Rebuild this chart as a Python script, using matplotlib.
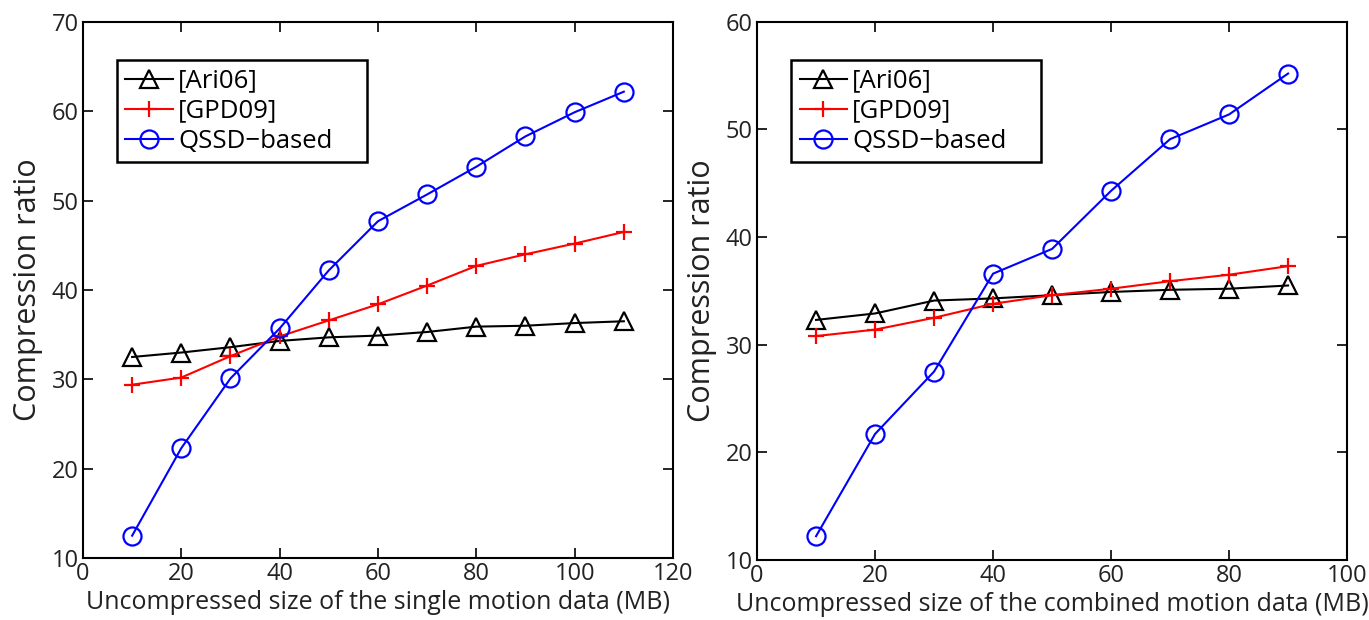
import matplotlib
matplotlib.use("Agg")
import matplotlib.pyplot as plt

plt.rcParams['font.family'] = ['Open Sans', 'DejaVu Sans']

# Left panel: single motion data
x_single = [10, 20, 30, 40, 50, 60, 70, 80, 90, 100, 110]
ari06_single = [32.5, 33.0, 33.6, 34.3, 34.7, 34.9, 35.3, 35.9, 36.0, 36.3, 36.5]
gpd09_single = [29.4, 30.2, 32.6, 34.8, 36.6, 38.4, 40.5, 42.7, 44.0, 45.2, 46.5]
qssd_single = [12.5, 22.3, 30.1, 35.7, 42.2, 47.7, 50.7, 53.8, 57.2, 59.9, 62.2]

# Right panel: combined motion data
x_comb = [10, 20, 30, 40, 50, 60, 70, 80, 90]
ari06_comb = [32.3, 32.9, 34.1, 34.3, 34.6, 34.9, 35.1, 35.2, 35.5]
gpd09_comb = [30.8, 31.4, 32.5, 33.8, 34.6, 35.2, 35.9, 36.5, 37.3]
qssd_comb = [12.2, 21.7, 27.5, 36.6, 38.9, 44.3, 49.1, 51.4, 55.2]

labels = ['[Ari06]', '[GPD09]', 'QSSD\u2212based']

fig = plt.figure(figsize=(13.69, 6.2), dpi=100)
ax1 = fig.add_axes([0.0606, 0.1, 0.431, 0.8645])
ax2 = fig.add_axes([0.5530, 0.097, 0.431, 0.8677])

def draw(ax, x, a, g, q, xlim, ylim, xticks, yticks, xlabel):
    ax.plot(x, a, color='black', marker='^', ms=12.5, mfc='none', mew=1.6, lw=1.5, label=labels[0])
    ax.plot(x, g, color='red', marker='+', ms=11, mew=1.6, lw=1.5, label=labels[1])
    ax.plot(x, q, color='blue', marker='o', ms=13, mfc='none', mew=1.6, lw=1.5, label=labels[2])
    ax.set_xlim(*xlim)
    ax.set_ylim(*ylim)
    ax.set_xticks(xticks)
    ax.set_yticks(yticks)
    ax.tick_params(direction='in', top=True, right=True, length=7, width=1.2,
                   labelsize=17, colors='black', labelcolor='#222222', pad=3)
    for s in ax.spines.values():
        s.set_linewidth(1.5)
    ax.set_xlabel(xlabel, fontsize=18, color='#222222', labelpad=3)
    ax.set_ylabel('Compression ratio', fontsize=22, color='#222222', labelpad=6)
    leg = ax.legend(loc='upper left', bbox_to_anchor=(0.0576, 0.6, 0.4237, 0.329),
                    mode='expand', borderaxespad=0,
                    fancybox=False, edgecolor='black', fontsize=18.5, handlelength=1.85,
                    handletextpad=0.2, borderpad=0.33, labelspacing=0.2, framealpha=1)
    leg.get_frame().set_linewidth(1.8)

draw(ax1, x_single, ari06_single, gpd09_single, qssd_single, (0, 120), (10, 70),
     range(0, 121, 20), range(10, 71, 10), 'Uncompressed size of the single motion data (MB)')
draw(ax2, x_comb, ari06_comb, gpd09_comb, qssd_comb, (0, 100), (10, 60),
     range(0, 101, 20), range(10, 61, 10), 'Uncompressed size of the combined motion data (MB)')

fig.savefig('out.png', dpi=100)
